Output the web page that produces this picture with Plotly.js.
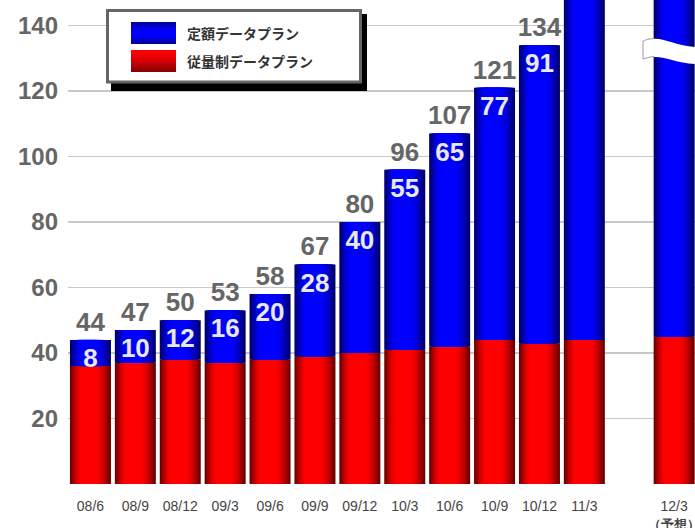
<!DOCTYPE html>
<html>
<head>
<meta charset="utf-8">
<script src="https://cdn.plot.ly/plotly-3.0.1.min.js"></script>
<style>
html,body{margin:0;padding:0;background:#fff;overflow:hidden;}
#chart{width:695px;height:528px;}
</style>
</head>
<body>
<div id="chart"></div>
<script>
// ---- data ----
const periods = ['08/6','08/9','08/12','09/3','09/6','09/9','09/12','10/3','10/6','10/9','10/12','11/3','12/3'];
const tickLabels = ['08/6','08/9','08/12','09/3','09/6','09/9','09/12','10/3','10/6','10/9','10/12','11/3','12/3<br><span style="font-size:13px"><b>（予想）</b></span>'];
const seriesNames = ['定額データプラン', '従量制データプラン'];
const flatRate = [8,10,12,16,20,28,40,55,65,77,91,110,200];   // 定額 (blue)
const metered  = [36,37,38,37,38,39,40,41,42,44,43,44,45];     // 従量制 (red)
const yTicks = [20,40,60,80,100,120,140];

// ---- geometry / style ----
const W = 0.913;
const N = 10;
const plotL = 68, plotR = 695, plotB = 484, plotT = 0;
const yTop = 147.8;
const axisCats = periods.slice(0, 12).concat([' ', periods[12]]);
const totals = periods.map((p, i) => metered[i] + flatRate[i]);
const labelGapAbove = 0.8;   // label padding in axis units

function layerColor(k, ch) {
  const v = 0.42 + 0.58 * Math.sin((k / (N - 1)) * Math.PI / 2);
  const c = Math.round(255 * v);
  return ch === 'r' ? `rgb(${c},0,0)` : `rgb(0,0,${c})`;
}

const traces = [];
for (const ser of ['r', 'b']) {
  for (let k = 0; k < N; k++) {
    const t = k / N;
    const a = t * 0.32 * W, b = t * 0.42 * W;
    const w = W - a - b;
    const off = -W / 2 + a;
    traces.push({
      type: 'bar',
      x: periods,
      y: ser === 'r' ? metered : flatRate,
      base: ser === 'r' ? periods.map(() => 0) : metered,
      width: periods.map(() => w),
      offset: periods.map(() => off),
      marker: {color: layerColor(k, ser), line: {width: 0}},
      hoverinfo: 'skip',
      showlegend: false
    });
  }
}
// flat-rate labels inside the top of the blue segment (transparent carrier bar)
traces.push({
  type: 'bar', x: periods, y: flatRate, base: metered,
  width: periods.map(() => W), offset: periods.map(() => -W / 2),
  marker: {color: 'rgba(0,0,0,0)', line: {width: 0}},
  text: flatRate.map(String), textposition: 'inside', insidetextanchor: 'end',
  constraintext: 'none', textangle: 0,
  insidetextfont: {family: 'Liberation Sans, Arial, sans-serif', size: 26, color: '#e8e8e8', weight: 'bold'},
  hoverinfo: 'skip', showlegend: false
});
// total labels above bars
traces.push({
  type: 'scatter', mode: 'text', x: periods, y: totals.map(v => v + labelGapAbove),
  text: totals.map(String), textposition: 'top center',
  textfont: {family: 'Liberation Sans, Arial, sans-serif', size: 26, color: '#666666', weight: 'bold'},
  cliponaxis: false, hoverinfo: 'skip', showlegend: false
});

const pw = plotR - plotL, ph = plotB - plotT;
const X = px => (px - plotL) / pw;
const Y = py => (plotB - py) / ph;

const shapes = [];
// legend shadow + box
shapes.push({type: 'rect', xref: 'paper', yref: 'paper', x0: X(111), x1: X(367), y0: Y(91), y1: Y(14),
  fillcolor: '#000', line: {width: 0}, layer: 'above'});
shapes.push({type: 'rect', xref: 'paper', yref: 'paper', x0: X(107.5), x1: X(360.5), y0: Y(82), y1: Y(10.5),
  fillcolor: '#fff', line: {color: '#666', width: 3}, layer: 'above'});
// legend swatches with vertical gradient
const S = 11;
for (let i = 0; i < S; i++) {
  const f = (i + 0.5) / S;
  const vb = 0.55 + 0.45 * Math.sin(Math.PI * f);
  const vr = 1 - 0.5 * Math.pow(f, 1.5);
  const h = 22 / S;
  shapes.push({type: 'rect', xref: 'paper', yref: 'paper', x0: X(131), x1: X(176), y0: Y(22 + h * (i + 1)), y1: Y(22 + h * i),
    fillcolor: `rgb(0,0,${Math.round(255 * vb)})`, line: {width: 0}, layer: 'above'});
  shapes.push({type: 'rect', xref: 'paper', yref: 'paper', x0: X(131), x1: X(176), y0: Y(50 + h * (i + 1)), y1: Y(50 + h * i),
    fillcolor: `rgb(${Math.round(255 * vr)},0,0)`, line: {width: 0}, layer: 'above'});
}
// break mark on the forecast bar
function P(px, py) { return `${X(px)},${Y(py)}`; }
shapes.push({type: 'path', xref: 'paper', yref: 'paper', layer: 'above',
  path: `M ${P(643,41)} C ${P(662,34)} ${P(672,46)} ${P(695,47)} L ${P(695,64)} C ${P(672,63)} ${P(662,53)} ${P(643,59)} Z`,
  fillcolor: '#ffffff', line: {width: 0}});
shapes.push({type: 'path', xref: 'paper', yref: 'paper', layer: 'above',
  path: `M ${P(653,38.5)} C ${P(648,39)} ${P(644,40.5)} ${P(643,41)} L ${P(643,59)} C ${P(646,58)} ${P(650,57)} ${P(654,56.5)}`,
  line: {color: '#9a9a9a', width: 1}});

const annotations = [
  {xref: 'paper', yref: 'paper', x: X(185), y: Y(33), xanchor: 'left', yanchor: 'middle', showarrow: false,
   text: '<b>' + seriesNames[0] + '</b>', font: {family: 'Noto Sans CJK JP, sans-serif', size: 14, color: '#333'}},
  {xref: 'paper', yref: 'paper', x: X(185), y: Y(61), xanchor: 'left', yanchor: 'middle', showarrow: false,
   text: '<b>' + seriesNames[1] + '</b>', font: {family: 'Noto Sans CJK JP, sans-serif', size: 14, color: '#333'}}
];

const layout = {
  width: 695, height: 528,
  margin: {l: plotL, r: 695 - plotR, t: plotT, b: 528 - plotB, pad: 0},
  paper_bgcolor: '#fff', plot_bgcolor: '#fff',
  barmode: 'overlay',
  showlegend: false,
  xaxis: {
    type: 'category', categoryorder: 'array', categoryarray: axisCats,
    range: [-0.5, -0.5 + pw / 44.9],
    tickmode: 'array', tickvals: periods, ticktext: tickLabels,
    ticks: '', showgrid: false, zeroline: false, showline: false,
    ticklabelstandoff: 12,
    tickfont: {family: 'Liberation Sans, Arial, sans-serif', size: 14, color: '#444'}
  },
  yaxis: {
    range: [0, yTop], tickmode: 'array', tickvals: yTicks,
    ticks: '', showgrid: true, gridcolor: '#c8c8c8', gridwidth: 1.5,
    zeroline: false, showline: false, ticklabelstandoff: 9,
    tickfont: {family: 'Liberation Sans, Arial, sans-serif', size: 24, color: '#666', weight: 'bold'}
  },
  shapes: shapes,
  annotations: annotations
};

Plotly.newPlot('chart', traces, layout, {staticPlot: true, displayModeBar: false});
</script>
</body>
</html>
